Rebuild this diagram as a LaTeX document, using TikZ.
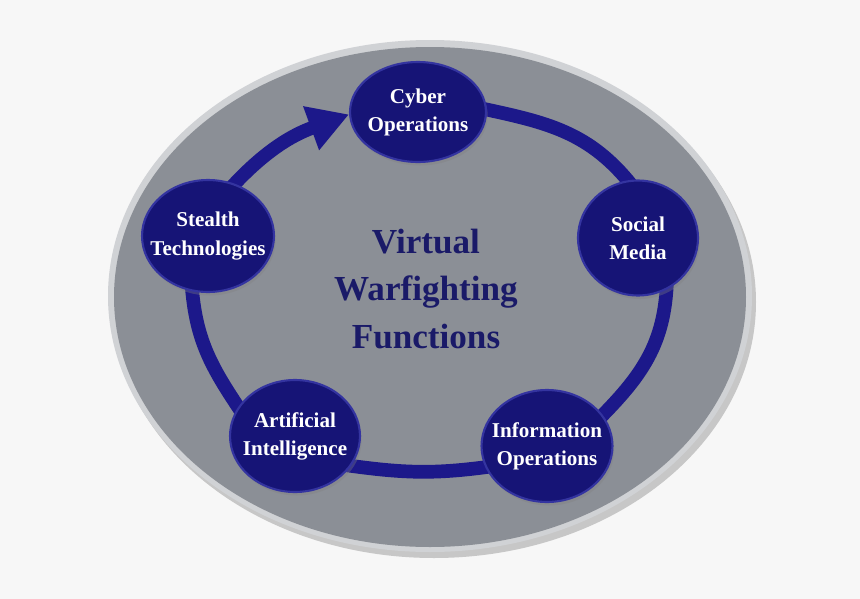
\documentclass[tikz,border=0pt]{standalone}
\usepackage{fontspec}
\setmainfont{Liberation Serif}
\usetikzlibrary{shapes.geometric,arrows.meta,shadows}
\definecolor{navy}{RGB}{22,20,118}
\definecolor{ringblue}{RGB}{28,24,138}
\definecolor{rimblue}{RGB}{52,52,160}
\definecolor{plate}{RGB}{139,143,150}
\definecolor{platerim}{RGB}{208,210,213}
\definecolor{titleblue}{RGB}{26,26,104}
\definecolor{paper}{RGB}{247,247,247}
\pgfdeclarelayer{background}
\pgfsetlayers{background,main}
\begin{document}
\begin{tikzpicture}[x=0.02cm,y=0.02cm,
  bubble/.style={ellipse,fill=navy,draw=rimblue,line width=1.2pt,
    drop shadow={shadow xshift=1pt,shadow yshift=-2pt,opacity=0.35}},
  bubbletext/.style={text=white,align=center,font=\bfseries\fontsize{12}{16}\selectfont},
  title/.style={text=titleblue,align=center,font=\bfseries\fontsize{20}{27}\selectfont},
  ring/.style={draw=ringblue,line width=7.8pt,shorten <=-5pt}]
  \useasboundingbox (0,0) rectangle (860,-599);
  \node[bubble,minimum width=2.72cm,minimum height=2cm,
    label={[bubbletext]center:Cyber\\Operations}] (cyber) at (418,-112) {};
  \node[bubble,minimum width=2.4cm,minimum height=2.3cm,
    label={[bubbletext]center:Social\\Media}] (social) at (638,-238) {};
  \node[bubble,minimum width=2.62cm,minimum height=2.24cm,
    label={[bubbletext]center:Information\\Operations}] (info) at (547,-446) {};
  \node[bubble,minimum width=2.6cm,minimum height=2.24cm,
    label={[bubbletext]center:Artificial\\Intelligence}] (ai) at (295,-436) {};
  \node[bubble,minimum width=2.64cm,minimum height=2.24cm,
    label={[bubbletext]center:Stealth\\Technologies}] (stealth) at (208,-236) {};
  \node[title] (vwf) at (426,-289) {Virtual\\Warfighting\\Functions};
  \begin{pgfonlayer}{background}
    \fill[paper] (0,0) rectangle (860,-599);
    \fill[black!22] (434,-302) ellipse [x radius=322, y radius=256];
    \fill[platerim] (430,-296) ellipse [x radius=322, y radius=256];
    \fill[plate] (430,-297) ellipse [x radius=316, y radius=250];
    \draw[ring,-{Triangle[length=23pt,width=25pt]}]
      (stealth.63) to[out=48,in=200] (cyber.182);
    \draw[ring,shorten >=-5pt] (cyber.2) to[out=-12,in=128] (social.100);
    \draw[ring,shorten >=-5pt] (social.-61) to[out=-92,in=45] (info.29);
    \draw[ring,shorten >=-5pt] (info.199) to[out=188,in=-8] (ai.-28);
    \draw[ring,shorten >=-5pt] (ai.153) to[out=124,in=-86] (stealth.-106);
  \end{pgfonlayer}
\end{tikzpicture}
\end{document}
